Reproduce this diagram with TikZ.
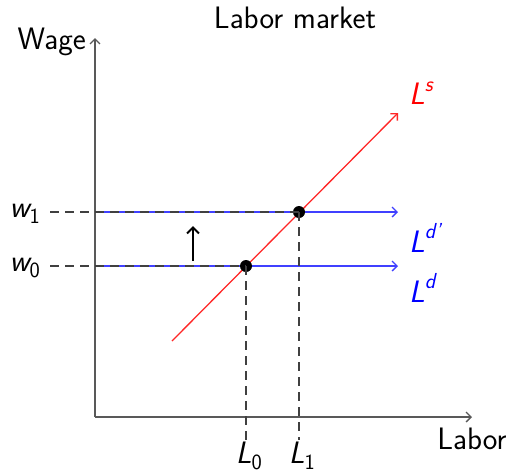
\documentclass[tikz,border=0pt]{standalone}
\usepackage{fontspec}
\usepackage{amsmath}
\usetikzlibrary{arrows.meta}
\newcommand{\sv}[1]{\textit{#1}}
\tikzset{
  lab/.style={font=\fontsize{31}{36}\selectfont\sffamily, inner sep=0pt},
  axis/.style={draw=black!65, line width=1.3pt, -{Straight Barb[length=5pt,width=10pt]}},
  supply/.style={draw=red!85, line width=1.3pt, -{Straight Barb[length=5pt,width=10pt]}},
  demand/.style={draw=blue!75, line width=1.3pt, -{Straight Barb[length=5pt,width=10pt]}},
  guide/.style={draw=black!75, line width=1.1pt, dash pattern=on 9pt off 6pt},
  eq/.style={circle, fill=black, inner sep=0pt, minimum size=12pt},
  shiftarrow/.style={draw=black, line width=2pt, -{Straight Barb[length=6pt,width=12pt]}}
}
\begin{document}
\begin{tikzpicture}[x=1pt,y=-1pt]
\useasboundingbox (0,0) rectangle (511,475);
% axes
\coordinate (O) at (95,417);
\coordinate (ytop) at (95,38);
\coordinate (xend) at (472,417);
\draw[axis] (O) -- (ytop);
\draw[axis] (O) -- (xend);
% labels of axes
\node[lab] (title) at (295,18) {Labor market};
\node[lab, anchor=east] (wage) at (86,42) {Wage};
\node[lab] (labor) at (472,439) {Labor};
% demand lines
\coordinate (d1s) at (95,212);
\coordinate (d1e) at (398,212);
\coordinate (d0s) at (95,266);
\coordinate (d0e) at (398,266);
\draw[demand] (d1s) -- (d1e);
\draw[demand] (d0s) -- (d0e);
% supply
\coordinate (ss) at (172,341);
\coordinate (se) at (398,113);
\draw[supply] (ss) -- (se);
% equilibrium points
\node[eq] (E0) at (246,266) {};
\node[eq] (E1) at (299,212) {};
% w labels
\node[lab] (w1) at (25,214) {$\sv{w}_{\textsf{1}}$};
\node[lab] (w0) at (25,268) {$\sv{w}_{\textsf{0}}$};
% L labels
\node[lab] (L0) at (249,456) {$\sv{L}_{\textsf{0}}$};
\node[lab] (L1) at (302,456) {$\sv{L}_{\textsf{1}}$};
\coordinate (b0) at (246,440);
\coordinate (b1) at (299,440);
% guides
\coordinate (g1) at (50,212);
\coordinate (g0) at (50,266);
\draw[guide] (g1) -- (E1.center);
\draw[guide] (g0) -- (E0.center);
\draw[guide] (E0.center) -- (b0);
\draw[guide] (E1.center) -- (b1);
% curve labels
\node[lab, text=red, anchor=west] (Ls) at (409,93) {$\sv{L}^{\sv{s}}$};
\node[lab, text=blue, anchor=west] (Ldp) at (409,238) {$\sv{L}^{\sv{d\textquoteright}}$};
\node[lab, text=blue, anchor=west] (Ld) at (409,288) {$\sv{L}^{\sv{d}}$};
% shift arrow
\coordinate (a0) at (193,261);
\coordinate (a1) at (193,226);
\draw[shiftarrow] (a0) -- (a1);
\end{tikzpicture}
\end{document}
